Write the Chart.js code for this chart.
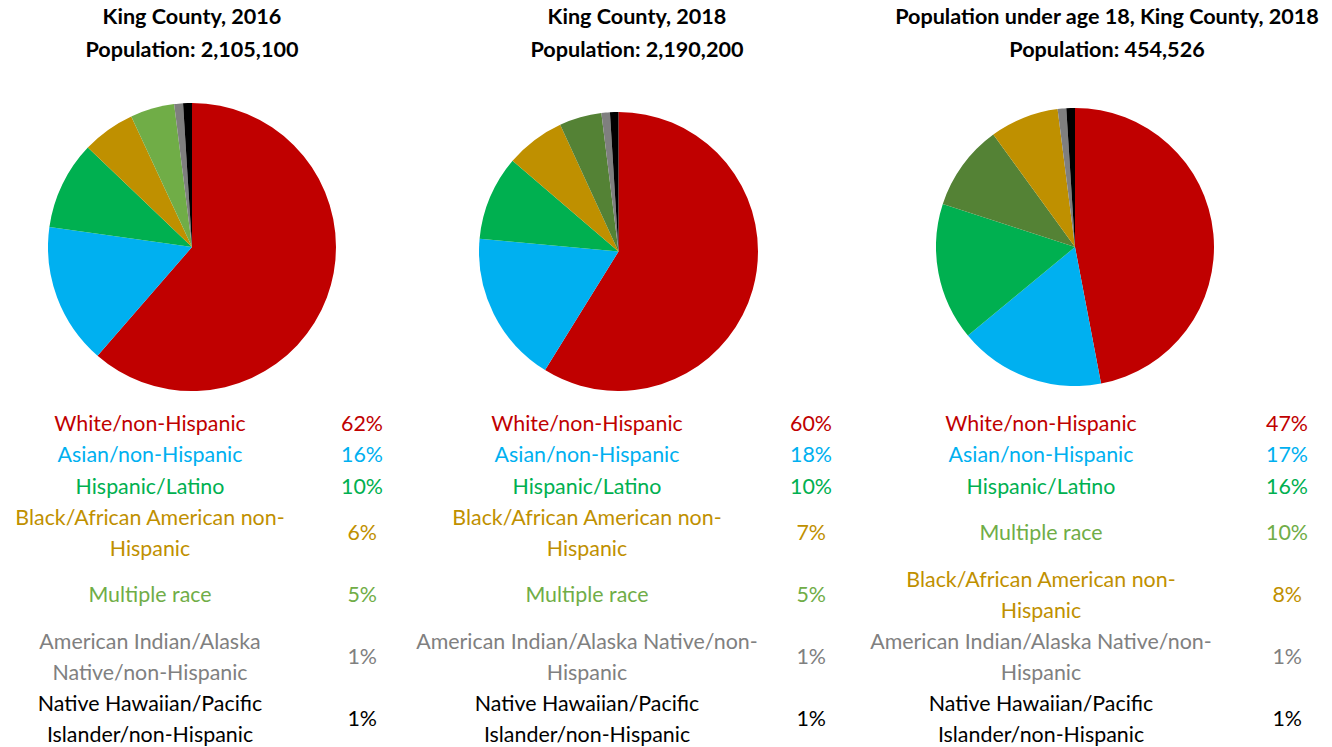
<!DOCTYPE html>
<html>
<head>
<meta charset="utf-8">
<script src="https://cdn.jsdelivr.net/npm/chart.js@4/dist/chart.umd.min.js"></script>
<style>
  body { margin: 0; background: #fff; width: 1332px; height: 747px; position: relative; overflow: hidden; font-family: 'Lato', 'Open Sans', sans-serif; }
  .title { position: absolute; top: 0; width: 500px; text-align: center; font-weight: bold; font-size: 21.6px; line-height: 33px; color: #000; }
  canvas { position: absolute; }
  .label, .pct { position: absolute; white-space: pre-line; font-size: 21.4px; line-height: 31px; display: flex; align-items: center; }
  .label { width: 400px; justify-content: center; text-align: center; }
  .pct { width: 60px; justify-content: flex-end; }
</style>
</head>
<body>
<script>
// Daten
const titles = [
  'King County, 2016\nPopulation: 2,105,100',
  'King County, 2018\nPopulation: 2,190,200',
  'Population under age 18, King County, 2018\nPopulation: 454,526'
];

const labels2016 = ['White/non-Hispanic', 'Asian/non-Hispanic', 'Hispanic/Latino',
  'Black/African American non-\nHispanic', 'Multiple race',
  'American Indian/Alaska\nNative/non-Hispanic', 'Native Hawaiian/Pacific\nIslander/non-Hispanic'];
const values2016 = [62, 16, 10, 6, 5, 1, 1];

const labels2018 = ['White/non-Hispanic', 'Asian/non-Hispanic', 'Hispanic/Latino',
  'Black/African American non-\nHispanic', 'Multiple race',
  'American Indian/Alaska Native/non-\nHispanic', 'Native Hawaiian/Pacific\nIslander/non-Hispanic'];
const values2018 = [60, 18, 10, 7, 5, 1, 1];

const labelsUnder18 = ['White/non-Hispanic', 'Asian/non-Hispanic', 'Hispanic/Latino',
  'Multiple race', 'Black/African American non-\nHispanic',
  'American Indian/Alaska Native/non-\nHispanic', 'Native Hawaiian/Pacific\nIslander/non-Hispanic'];
const valuesUnder18 = [47, 17, 16, 10, 8, 1, 1];

// Farben je Kategorie
const textColors = {
  'White': '#C00000', 'Asian': '#00B0F0', 'Hispanic/Latino': '#00B050', 'Black': '#BF9000',
  'Multiple': '#70AD47', 'American': '#808080', 'Native': '#000000'
};
const sliceColors2016 = ['#C00000', '#00B0F0', '#00B050', '#BF9000', '#70AD47', '#7F7F7F', '#000000'];
const sliceColors2018 = ['#C00000', '#00B0F0', '#00B050', '#BF9000', '#548235', '#7F7F7F', '#000000'];
const sliceColorsUnder18 = ['#C00000', '#00B0F0', '#00B050', '#548235', '#BF9000', '#7F7F7F', '#000000'];

// Layout
const panels = [
  { labels: labels2016, values: values2016, colors: sliceColors2016, titleX: 192, cx: 192, cy: 247, r: 144, labelX: 150, pctRight: 383 },
  { labels: labels2018, values: values2018, colors: sliceColors2018, titleX: 637, cx: 618.5, cy: 251, r: 139.5, labelX: 587, pctRight: 832 },
  { labels: labelsUnder18, values: valuesUnder18, colors: sliceColorsUnder18, titleX: 1107, cx: 1075, cy: 246.5, r: 139, labelX: 1041, pctRight: 1308 }
];

function textColorFor(label) {
  for (const key in textColors) {
    if (label.startsWith(key)) return textColors[key];
  }
  return '#000';
}

panels.forEach((p, i) => {
  // Titel
  const t = document.createElement('div');
  t.className = 'title';
  t.style.left = (p.titleX - 250) + 'px';
  t.style.whiteSpace = 'pre-line';
  t.textContent = titles[i];
  document.body.appendChild(t);

  // Kreisdiagramm
  const size = p.r * 2;
  const canvas = document.createElement('canvas');
  canvas.width = size;
  canvas.height = size;
  canvas.style.left = (p.cx - p.r) + 'px';
  canvas.style.top = (p.cy - p.r) + 'px';
  canvas.style.width = size + 'px';
  canvas.style.height = size + 'px';
  document.body.appendChild(canvas);

  new Chart(canvas.getContext('2d'), {
    type: 'pie',
    data: {
      labels: p.labels,
      datasets: [{
        data: p.values,
        backgroundColor: p.colors,
        borderWidth: 0
      }]
    },
    options: {
      responsive: false,
      animation: false,
      layout: { padding: 0 },
      plugins: { legend: { display: false }, tooltip: { enabled: false } }
    }
  });

  // Tabelle unter dem Diagramm
  let y = 408;
  p.labels.forEach((lab, j) => {
    const h = j < 3 ? 31.3 : 62;
    const color = textColorFor(lab);

    const l = document.createElement('div');
    l.className = 'label';
    l.style.left = (p.labelX - 200) + 'px';
    l.style.top = y + 'px';
    l.style.height = h + 'px';
    l.style.color = color;
    l.textContent = lab;
    document.body.appendChild(l);

    const v = document.createElement('div');
    v.className = 'pct';
    const right = p.values[j] < 10 ? p.pctRight - 6 : p.pctRight;
    v.style.left = (right - 60) + 'px';
    v.style.top = y + 'px';
    v.style.height = h + 'px';
    v.style.color = color;
    v.textContent = p.values[j] + '%';
    document.body.appendChild(v);

    y += h;
  });
});
</script>
</body>
</html>
